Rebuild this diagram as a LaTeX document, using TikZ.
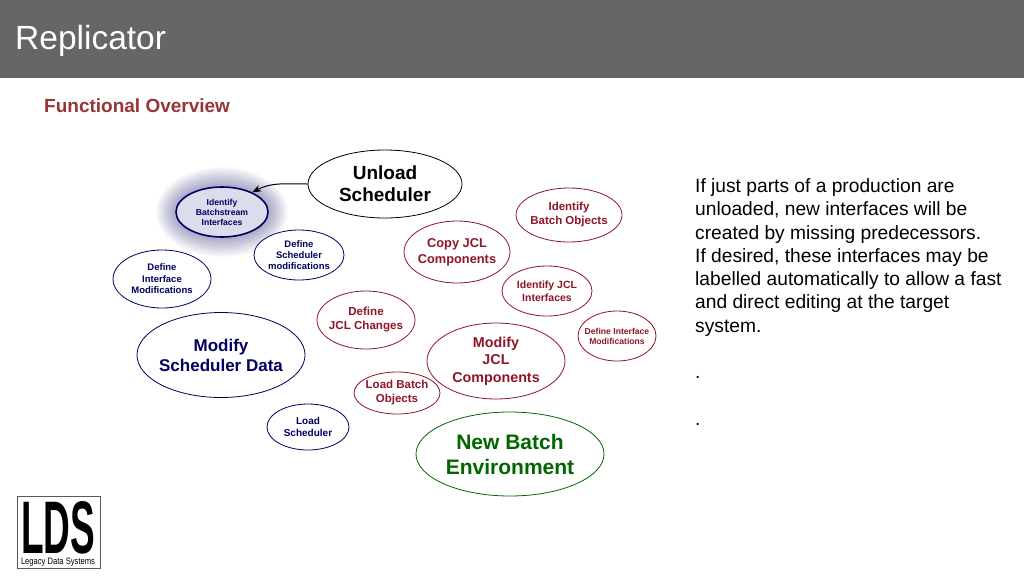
\documentclass[tikz,border=0pt]{standalone}
\usepackage{fontspec}
\setmainfont{Liberation Sans}
\usetikzlibrary{shapes.geometric,arrows.meta}
\definecolor{hdr}{HTML}{666666}
\definecolor{sub}{HTML}{953735}
\definecolor{navy}{HTML}{000060}
\definecolor{dred}{HTML}{8F1528}
\definecolor{dgreen}{HTML}{006600}
\definecolor{glowin}{HTML}{DCDCEC}
\tikzset{
  bub/.style={ellipse,draw,fill=white,inner sep=-30pt,align=center,font=\bfseries,line width=0.8pt},
  navyb/.style={bub,draw=navy,text=navy},
  redb/.style={bub,draw=dred,text=dred},
  sz/.style 2 args={minimum width=#1 pt,minimum height=#2 pt},
  fs/.style 2 args={font=\fontsize{#1}{#2}\selectfont\bfseries},
}
\begin{document}
\begin{tikzpicture}[x=1pt,y=-1pt]
\useasboundingbox (0,0) rectangle (1024,576);
\fill[white] (0,0) rectangle (1024,576);
\fill[hdr] (0,0) rectangle (1024,78);
\node[anchor=base west,inner sep=0pt,text=white,font=\fontsize{33.5}{38}\selectfont] (title) at (15,49) {Replicator};
\node[anchor=base west,inner sep=0pt,text=sub,font=\fontsize{19}{22}\selectfont\bfseries] (subt) at (44,112) {Functional Overview};
% glow
\foreach \i in {0,...,17}{
  \fill[navy,opacity=0.022] (222,212) ellipse ({66-1.3*\i} and {45-1.3*\i});
}
\node[bub,draw=navy,text=navy,line width=1.6pt,fill=glowin,sz={92}{50},fs={8.6}{10}] (ib) at (222,212) {Identify\\Batchstream\\Interfaces};
\node[bub,sz={154}{68},fs={19}{22}] (un) at (385,184) {Unload\\Scheduler};
\node[navyb,sz={90}{50},fs={9.5}{11}] (ds) at (299,255) {Define\\Scheduler\\modifications};
\node[navyb,sz={98}{58},fs={9.5}{11.5}] (di) at (162,279) {Define\\Interface\\Modifications};
\node[navyb,sz={168}{85},fs={17}{20}] (ms) at (221,355) {Modify\\Scheduler Data};
\node[navyb,sz={82}{46},fs={10}{12}] (ls) at (308,427) {Load\\Scheduler};
\node[redb,sz={98}{58},fs={11.6}{14}] (dj) at (366,320) {Define\\JCL Changes};
\node[redb,sz={106}{62},fs={12.8}{16}] (cj) at (457,252) {Copy JCL\\Components};
\node[redb,sz={106}{54},fs={11.5}{14}] (ibo) at (569,215) {Identify\\Batch Objects};
\node[redb,sz={90}{50},fs={10.5}{13}] (ij) at (547,291) {Identify JCL\\Interfaces};
\node[redb,sz={78}{50},fs={8.6}{10}] (dm) at (617,336) {Define Interface\\Modifications};
\node[redb,sz={138}{76},fs={14.3}{17.5}] (mj) at (496,361) {Modify\\JCL\\Components};
\node[redb,sz={86}{42},fs={11.5}{14}] (lb) at (397,393) {Load Batch\\Objects};
\node[bub,draw=dgreen,text=dgreen,sz={188}{84},fs={21}{25}] (nb) at (510,454) {New Batch\\Environment};
\draw[-{Stealth[length=9pt,width=7pt]},line width=1pt] (un.west) to[out=180,in=28] (ib.33);
% right text
\node[anchor=north west,inner sep=0pt,align=left,font=\fontsize{19.2}{23.25}\selectfont] (txt) at (695,178.5) {If just parts of a production are\\unloaded, new interfaces will be\\created by missing predecessors.\\If desired, these interfaces may be\\labelled automatically to allow a fast\\and direct editing at the target\\system.\\[23.25pt].\\[23.25pt].};
% logo
\draw[draw=black!65,line width=1pt] (17,496.5) rectangle (100,568.5);
\node[inner sep=0pt] (lds) at (58,528) {\resizebox{74pt}{52pt}{\bfseries LDS}};
\node[inner sep=0pt] (lname) at (58,562.5) {\resizebox{74pt}{6.5pt}{Legacy Data Systems}};
\end{tikzpicture}
\end{document}
